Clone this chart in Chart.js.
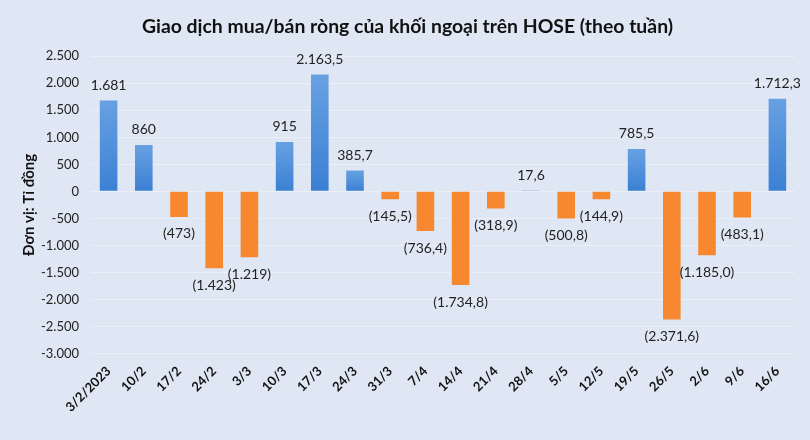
<!DOCTYPE html>
<html>
<head>
<meta charset="utf-8">
<script src="https://cdn.jsdelivr.net/npm/chart.js@4/dist/chart.umd.min.js"></script>
<style>
html,body{margin:0;padding:0;background:#dfe7f5;}
#wrap{width:810px;height:440px;position:relative;}
</style>
</head>
<body>
<div id="wrap"><canvas id="c" width="810" height="440"></canvas></div>
<script>
const titleText = "Giao dịch mua/bán ròng của khối ngoại trên HOSE (theo tuần)";
const yAxisTitle = "Đơn vị: Tỉ đồng";
const categories = ["3/2/2023","10/2","17/2","24/2","3/3","10/3","17/3","24/3","31/3","7/4","14/4","21/4","28/4","5/5","12/5","19/5","26/5","2/6","9/6","16/6"];
const netValues = [1681, 860, -473, -1423, -1219, 915, 2163.5, 385.7, -145.5, -736.4, -1734.8, -318.9, 17.6, -500.8, -144.9, 785.5, -2371.6, -1185.0, -483.1, 1712.3];
const valueDecimals = [0,0,0,0,0,0,1,1,1,1,1,1,1,1,1,1,1,1,1,1];
const yMin = -3000, yMax = 2500, yStep = 500;

function fmtNum(v, dec){
  const abs = Math.abs(v);
  let s = abs.toFixed(dec);
  let [ip, fp] = s.split('.');
  ip = ip.replace(/\B(?=(\d{3})+(?!\d))/g, '.');
  return fp ? ip + ',' + fp : ip;
}
function fmtLabel(v, dec){
  const s = fmtNum(v, dec);
  return v < 0 ? '(' + s + ')' : s;
}

const FONT = "Lato, 'Open Sans', sans-serif";

const labelPlugin = {
  id: 'valueLabels',
  afterDatasetsDraw(chart){
    const ctx = chart.ctx;
    const meta = chart.getDatasetMeta(0);
    ctx.save();
    ctx.font = "14px " + FONT;
    ctx.fillStyle = '#222';
    ctx.textAlign = 'center';
    ctx.textBaseline = 'middle';
    meta.data.forEach((bar, i) => {
      const v = netValues[i];
      const txt = fmtLabel(v, valueDecimals[i]);
      const y = v >= 0 ? bar.y - 15 : bar.y + 17;
      ctx.fillText(txt, bar.x, y);
    });
    ctx.restore();
  }
};

const bgPlugin = {
  id: 'bg',
  beforeDraw(chart){
    const ctx = chart.ctx;
    ctx.save();
    ctx.fillStyle = '#dfe7f5';
    ctx.fillRect(0,0,chart.width,chart.height);
    ctx.restore();
  }
};

new Chart(document.getElementById('c'), {
  type: 'bar',
  data: {
    labels: categories,
    datasets: [{
      data: netValues,
      backgroundColor(context){
        const v = context.raw;
        if (v < 0) return '#f7882f';
        const chart = context.chart;
        const ys = chart.scales.y;
        if (!ys || !chart.chartArea) return '#4f8fdb';
        const top = ys.getPixelForValue(v);
        const base = ys.getPixelForValue(0);
        if (!isFinite(top) || Math.abs(base - top) < 1) return '#4f8fdb';
        const g = chart.ctx.createLinearGradient(0, top, 0, base);
        g.addColorStop(0, '#68a1e2');
        g.addColorStop(1, '#3b80d4');
        return g;
      },
      borderWidth: 0,
      categoryPercentage: 1.0,
      barPercentage: 0.5
    }]
  },
  options: {
    responsive: false,
    animation: false,
    devicePixelRatio: 1,
    layout: { padding: { left: 20, right: 15, top: 8, bottom: 15 } },
    plugins: {
      legend: { display: false },
      tooltip: { enabled: false },
      title: {
        display: true,
        text: titleText,
        color: '#111',
        font: { family: FONT, size: 19.4, weight: 'bold' },
        padding: { top: 7, bottom: 18 }
      }
    },
    scales: {
      x: {
        grid: { display: false, drawTicks: false },
        border: { display: false },
        afterFit(scale){ scale.paddingLeft = 0; },
        ticks: {
          color: '#111',
          font: { family: FONT, size: 13, weight: 'bold' },
          minRotation: 45, maxRotation: 45,
          autoSkip: false,
          padding: 10
        }
      },
      y: {
        min: yMin, max: yMax,
        grid: { color: 'rgba(255,255,255,0.35)', drawTicks: false },
        border: { display: false },
        afterFit(scale){ scale.width = 71; },
        ticks: {
          stepSize: yStep,
          color: '#222',
          padding: 12,
          font: { family: FONT, size: 13 },
          callback(v){ return (v < 0 ? '-' : '') + fmtNum(v, 0); }
        },
        title: {
          display: true,
          text: yAxisTitle,
          color: '#111',
          font: { family: FONT, size: 15, weight: 'bold' },
          padding: { top: 0, bottom: 6 }
        }
      }
    }
  },
  plugins: [bgPlugin, labelPlugin]
});
</script>
</body>
</html>
